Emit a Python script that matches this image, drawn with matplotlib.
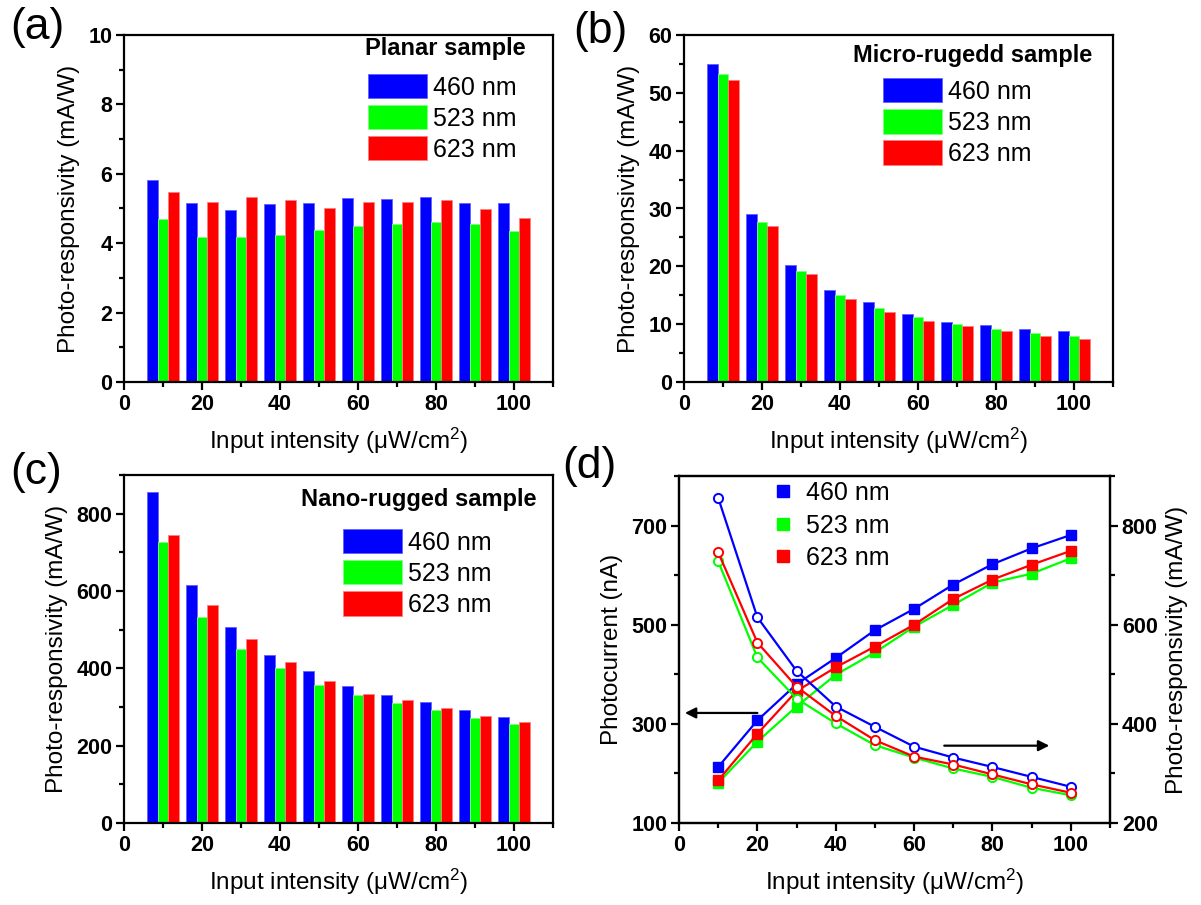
import numpy as np
import matplotlib
matplotlib.use("Agg")
import matplotlib.pyplot as plt
from matplotlib.lines import Line2D
from matplotlib.ticker import MultipleLocator, FixedLocator

plt.rcParams['font.family'] = ['Liberation Sans', 'DejaVu Sans']
plt.rcParams['mathtext.fontset'] = 'custom'
plt.rcParams['mathtext.rm'] = 'Liberation Sans'
plt.rcParams['mathtext.default'] = 'regular'

# ---------------- data ----------------
intensity = [10, 20, 30, 40, 50, 60, 70, 80, 90, 100]
wavelengths = ['460 nm', '523 nm', '623 nm']
colors = ['#0000FF', '#00FF00', '#FF0000']
edge_colors = ['#6060FF', '#80FF80', '#FF8080']

planar_460 = [5.82, 5.17, 4.95, 5.12, 5.15, 5.29, 5.27, 5.32, 5.17, 5.15]
planar_523 = [4.70, 4.18, 4.18, 4.24, 4.38, 4.51, 4.56, 4.60, 4.56, 4.35]
planar_623 = [5.47, 5.20, 5.33, 5.24, 5.00, 5.20, 5.20, 5.24, 4.98, 4.73]

micro_460 = [55.0, 29.1, 20.3, 15.9, 13.75, 11.75, 10.4, 9.85, 9.1, 8.8]
micro_523 = [53.3, 27.6, 19.2, 15.0, 12.8, 11.3, 10.1, 9.15, 8.5, 8.0]
micro_623 = [52.2, 26.9, 18.6, 14.4, 12.1, 10.5, 9.7, 8.8, 8.0, 7.4]

nano_460 = [856, 615, 507, 435, 394, 354, 332, 313, 293, 273]
nano_523 = [728, 534, 451, 401, 357, 332, 310, 293, 271, 256]
nano_623 = [746, 564, 475, 416, 367, 334, 318, 298, 278, 261]

current_460 = [213, 307, 380, 433, 489, 532, 581, 622, 654, 681]
current_523 = [181, 264, 335, 399, 444, 496, 540, 585, 603, 634]
current_623 = [186, 280, 366, 414, 456, 500, 552, 591, 621, 649]

current_ticks = [100, 300, 500, 700]
sample_names = ['Planar sample', 'Micro-rugedd sample', 'Nano-rugged sample']
panel_tags = ['(a)', '(b)', '(c)', '(d)']

xlabel = 'Input intensity (μW/cm$^{2}$)'
ylabel_resp = 'Photo-responsivity (mA/W)'
ylabel_cur = 'Photocurrent (nA)'

# ---------------- figure ----------------
W, H = 1201, 905
fig = plt.figure(figsize=(W / 100, H / 100), dpi=100)


def ax_rect(l, r, t, b):
    return [l / W, 1 - b / H, (r - l) / W, (b - t) / H]


TICK_FS = 15.5
LABEL_FS = 17.5
LEG_FS = 18
SAMPLE_FS = 17
SPINE_LW = 1.6


def style_axis(ax, right_ticks=False):
    for s in ax.spines.values():
        s.set_linewidth(SPINE_LW)
    ax.tick_params(which='both', direction='out', width=SPINE_LW,
                   top=False, right=right_ticks, labelsize=TICK_FS)
    ax.tick_params(which='major', length=5.5, pad=3)
    ax.tick_params(which='minor', length=3.5)


def bar_panel(rect, data, ymax, ymajor, sample, sample_xy, leg_xy):
    ax = fig.add_axes(rect)
    w = 2.75
    offs = [-w, 0, w]
    x = np.array(intensity, dtype=float)
    handles = []
    for vals, c, ec, o in zip(data, colors, edge_colors, offs):
        b = ax.bar(x + o, vals, width=w, color=c, edgecolor=ec, linewidth=0.6)
        handles.append(b)
    ax.set_xlim(0, 110)
    ax.set_ylim(0, ymax)
    ax.xaxis.set_major_locator(MultipleLocator(20))
    ax.xaxis.set_minor_locator(MultipleLocator(10))
    ax.yaxis.set_major_locator(MultipleLocator(ymajor))
    ax.yaxis.set_minor_locator(MultipleLocator(ymajor / 2))
    style_axis(ax)
    ax.set_xlabel(xlabel, fontsize=LABEL_FS, labelpad=8)
    ax.set_ylabel(ylabel_resp, fontsize=LABEL_FS, labelpad=6)
    ax.text(sample_xy[0], sample_xy[1], sample, transform=ax.transAxes,
            ha='right', va='center', fontsize=SAMPLE_FS, fontweight='bold')
    ax.legend(handles, wavelengths, loc='upper left', bbox_to_anchor=leg_xy,
              frameon=False, fontsize=LEG_FS, borderpad=0, borderaxespad=0,
              handlelength=2.36, handleheight=1.12, labelspacing=0.22,
              handletextpad=0.25)
    return ax


ax_a = bar_panel(ax_rect(124, 553, 35, 382), [planar_460, planar_523, planar_623],
                 10, 2, sample_names[0], (0.937, 0.96), (0.569, 0.888))
ax_b = bar_panel(ax_rect(684, 1113, 35, 382), [micro_460, micro_523, micro_623],
                 60, 10, sample_names[1], (0.952, 0.94), (0.464, 0.876))
ax_c = bar_panel(ax_rect(124, 553, 475, 823), [nano_460, nano_523, nano_623],
                 900, 200, sample_names[2], (0.962, 0.93), (0.510, 0.845))

# ---------------- panel (d) ----------------
ax_d = fig.add_axes(ax_rect(679, 1110, 476, 823))
ax_d2 = ax_d.twinx()
cur_sets = [current_460, current_523, current_623]
resp_sets = [nano_460, nano_523, nano_623]
for cur, resp, c in zip(cur_sets, resp_sets, colors):
    ax_d.plot(intensity, cur, '-', color=c, lw=1.6, marker='s', ms=7.2,
              mec=c, mfc=c)
    ax_d2.plot(intensity, resp, '-', color=c, lw=1.6, marker='o', ms=6.6,
               mec=c, mfc='white', mew=1.4)
ax_d.set_xlim(0, 110)
ax_d.set_ylim(100, 800)
ax_d2.set_ylim(200, 900)
ax_d.xaxis.set_major_locator(MultipleLocator(20))
ax_d.xaxis.set_minor_locator(MultipleLocator(10))
ax_d.yaxis.set_major_locator(FixedLocator(current_ticks))
ax_d.yaxis.set_minor_locator(MultipleLocator(100))
ax_d2.yaxis.set_major_locator(MultipleLocator(200))
ax_d2.yaxis.set_minor_locator(MultipleLocator(100))
style_axis(ax_d)
style_axis(ax_d2, right_ticks=True)
ax_d2.tick_params(which='both', left=False)
ax_d.set_xlabel(xlabel, fontsize=LABEL_FS, labelpad=8)
ax_d.set_ylabel(ylabel_cur, fontsize=LABEL_FS, labelpad=6)
ax_d2.set_ylabel(ylabel_resp, fontsize=LABEL_FS, labelpad=6)

leg_handles = [Line2D([], [], ls='none', marker='s', ms=8, color=c) for c in colors]
ax_d2.legend(leg_handles, wavelengths, loc='upper left', bbox_to_anchor=(0.216, 0.985),
             frameon=False, fontsize=LEG_FS, borderpad=0, borderaxespad=0,
             handlelength=0.9, labelspacing=0.34, handletextpad=0.45)

arrow_kw = dict(arrowstyle='-|>', lw=1.6, color='black', mutation_scale=16,
                shrinkA=0, shrinkB=0)
ax_d.annotate('', xy=(1.5, 322), xytext=(20, 322), arrowprops=arrow_kw)
ax_d.annotate('', xy=(94.5, 256), xytext=(67.7, 256), arrowprops=arrow_kw)

# ---------------- panel tags ----------------
tag_pos = [(10, 28), (573, 31), (10, 472), (562, 466)]
for tag, (px, py) in zip(panel_tags, tag_pos):
    fig.text(px / W, 1 - py / H, tag, fontsize=32, ha='left', va='center')

# bold tick labels
fig.canvas.draw()
for ax in [ax_a, ax_b, ax_c, ax_d, ax_d2]:
    for lab in ax.get_xticklabels() + ax.get_yticklabels():
        lab.set_fontweight('bold')

fig.savefig('out.png', dpi=100)
